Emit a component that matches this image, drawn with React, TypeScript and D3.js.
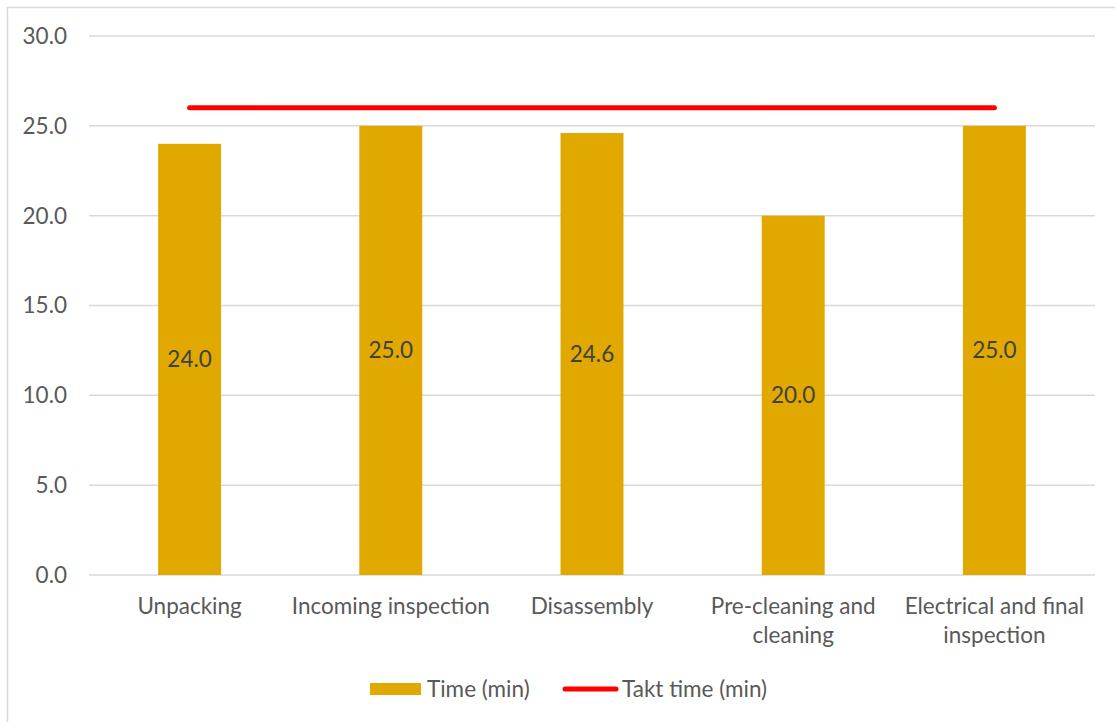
import React from "react";
import * as d3 from "d3";

const categories: string[][] = [
  ["Unpacking"],
  ["Incoming inspection"],
  ["Disassembly"],
  ["Pre-cleaning and", "cleaning"],
  ["Electrical and final", "inspection"],
];
const timeValues = [24.0, 25.0, 24.6, 20.0, 25.0];
const taktValues = [26, 26, 26, 26, 26];
const yTicks = [0, 5, 10, 15, 20, 25, 30];
const seriesNames = ["Time (min)", "Takt time (min)"];

const W = 1115;
const H = 722;
const FONT = "Lato, 'Open Sans', sans-serif";
const TXT = "#595959";
const FS = 22.5;

export default function App() {
  const x = d3
    .scaleBand<number>()
    .domain(categories.map((_, i) => i))
    .range([89, 1095])
    .paddingInner(0.687)
    .paddingOuter(0.3435);
  const y = d3.scaleLinear().domain([0, 30]).range([575, 36]);
  const bw = x.bandwidth();
  const cx = (i: number) => (x(i) as number) + bw / 2;
  const line = d3
    .line<number>()
    .x((_, i) => cx(i))
    .y((d) => y(d));

  return (
    <svg
      width={W}
      height={H}
      style={{ position: "absolute", left: 0, top: 0, background: "#fff" }}
      fontFamily={FONT}
    >
      <rect x={7.5} y={7.5} width={1200} height={800} fill="#fff" stroke="#d9d9d9" strokeWidth={1.5} />
      {yTicks.map((t) => (
        <g key={t}>
          <line x1={89} x2={1095} y1={y(t)} y2={y(t)} stroke="#d9d9d9" strokeWidth={1.5} />
          <text x={67} y={y(t)} dy="0.35em" textAnchor="end" fontSize={FS} fill={TXT}>
            {t.toFixed(1)}
          </text>
        </g>
      ))}
      {timeValues.map((v, i) => (
        <g key={i}>
          <rect x={x(i)} y={y(v)} width={bw} height={y(0) - y(v)} fill="#E1A900" />
          <text x={cx(i)} y={(y(v) + y(0)) / 2} dy="0.35em" textAnchor="middle" fontSize={FS} fill="#404040">
            {v.toFixed(1)}
          </text>
        </g>
      ))}
      <path d={line(taktValues) || ""} fill="none" stroke="#FF0000" strokeWidth={5} strokeLinecap="round" />
      {categories.map((lines, i) => (
        <text key={i} x={cx(i)} y={606} textAnchor="middle" fontSize={FS} fill={TXT}>
          {lines.map((l, j) => (
            <tspan key={j} x={cx(i)} dy={j === 0 ? "0.35em" : 29}>
              {l}
            </tspan>
          ))}
        </text>
      ))}
      <g>
        <rect x={370} y={683} width={51} height={12} fill="#E1A900" />
        <text x={427} y={689} dy="0.35em" fontSize={FS} fill={TXT}>
          {seriesNames[0]}
        </text>
        <line x1={565} x2={616} y1={689} y2={689} stroke="#FF0000" strokeWidth={5} strokeLinecap="round" />
        <text x={622} y={689} dy="0.35em" fontSize={FS} fill={TXT}>
          {seriesNames[1]}
        </text>
      </g>
    </svg>
  );
}
